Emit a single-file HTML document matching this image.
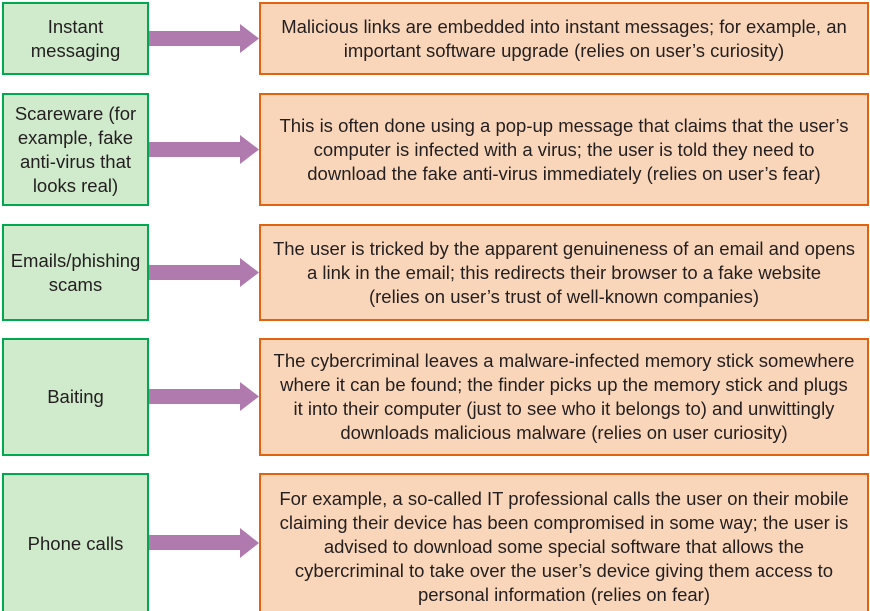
<!DOCTYPE html>
<html><head><meta charset="utf-8"><style>
html,body{margin:0;padding:0;background:#fff;}
html{width:870px;height:611px;overflow:hidden;}
body{width:870px;height:611px;position:relative;overflow:hidden;font-family:"Liberation Sans",sans-serif;color:#231f20;}
.b{position:absolute;box-sizing:border-box;display:flex;align-items:center;justify-content:center;text-align:center;font-size:18.5px;line-height:24px;white-space:nowrap;}
.g{left:2px;width:147px;background:#d0eacc;border:2.5px solid #00a84f;}
.o{left:259px;width:610px;background:#f9d6ba;border:2.5px solid #e2630f;}
svg{position:absolute;left:0;top:0;}
</style></head><body>
<svg width="870" height="611">
<g fill="#b07aae">
<polygon points="149,31 240,31 240,24 259,38.5 240,53 240,46 149,46"/>
<polygon points="149,142 240,142 240,135 259,149.5 240,164 240,157 149,157"/>
<polygon points="149,265 240,265 240,258 259,272.5 240,287 240,280 149,280"/>
<polygon points="149,389 240,389 240,382 259,396.5 240,411 240,404 149,404"/>
<polygon points="149,535 240,535 240,528 259,543 240,558 240,550 149,550"/>
</g></svg>
<div class="b g" style="top:2px;height:73px">Instant<br>messaging</div>
<div class="b g" style="top:93px;height:113px">Scareware (for<br>example, fake<br>anti-virus that<br>looks real)</div>
<div class="b g" style="top:224px;height:97px">Emails/phishing<br>scams</div>
<div class="b g" style="top:338px;height:118px">Baiting</div>
<div class="b g" style="top:473px;height:150px;align-items:flex-start;padding-top:57px">Phone calls</div>
<div class="b o" style="top:2px;height:73px">Malicious links are embedded into instant messages; for example, an<br>important software upgrade (relies on user’s curiosity)</div>
<div class="b o" style="top:93px;height:113px">This is often done using a pop-up message that claims that the user’s<br>computer is infected with a virus; the user is told they need to<br>download the fake anti-virus immediately (relies on user’s fear)</div>
<div class="b o" style="top:224px;height:97px">The user is tricked by the apparent genuineness of an email and opens<br>a link in the email; this redirects their browser to a fake website<br>(relies on user’s trust of well-known companies)</div>
<div class="b o" style="top:338px;height:118px">The cybercriminal leaves a malware-infected memory stick somewhere<br>where it can be found; the finder picks up the memory stick and plugs<br>it into their computer (just to see who it belongs to) and unwittingly<br>downloads malicious malware (relies on user curiosity)</div>
<div class="b o" style="top:473px;height:150px;align-items:flex-start;padding-top:12px">For example, a so-called IT professional calls the user on their mobile<br>claiming their device has been compromised in some way; the user is<br>advised to download some special software that allows the<br>cybercriminal to take over the user’s device giving them access to<br>personal information (relies on fear)</div>
</body></html>
